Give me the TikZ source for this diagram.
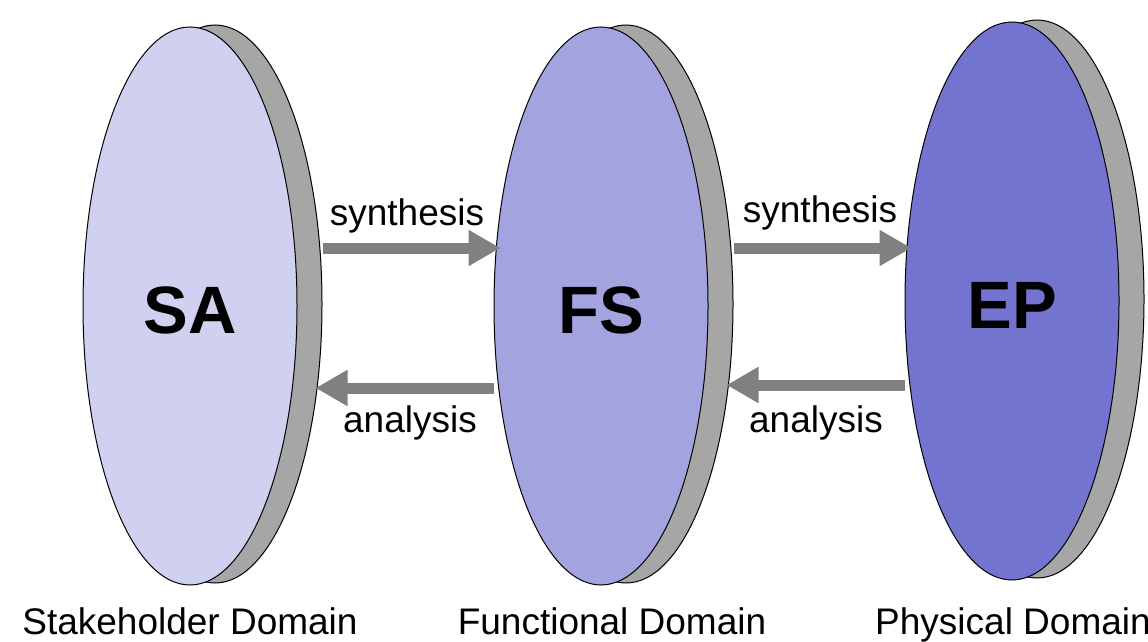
\documentclass[tikz,border=0pt]{standalone}
\usepackage{fontspec}
\setmainfont{Liberation Sans}
\usetikzlibrary{shapes.geometric,arrows.meta}
\definecolor{saFill}{HTML}{D0D0F0}
\definecolor{fsFill}{HTML}{A3A3DF}
\definecolor{epFill}{HTML}{7373D0}
\definecolor{backGray}{HTML}{A6A6A6}
\definecolor{arrGray}{HTML}{808080}
\tikzset{
  disc/.style={ellipse, draw=black, line width=1pt, inner sep=0pt,
    minimum width=214pt, minimum height=558pt},
  backdisc/.style={disc, fill=backGray},
  bigtxt/.style={font=\fontsize{67}{70}\selectfont\bfseries},
  lbl/.style={font=\fontsize{37}{44}\selectfont, anchor=base, inner sep=0pt},
  flow/.style={draw=arrGray, line width=11pt, shorten >=-7pt,
    -{Triangle[length=32pt,width=34pt]}},
}
\begin{document}
\begin{tikzpicture}[x=1pt,y=-1pt]
\useasboundingbox (0,0) rectangle (1148,642);
% back discs
\node[backdisc] (saback) at (215,304) {};
\node[backdisc] (fsback) at (626,304) {};
\node[backdisc] (epback) at (1037,299) {};
% front discs
\node[disc, fill=saFill] (sa) at (190,306) {};
\node[disc, fill=fsFill] (fs) at (601,306) {};
\node[disc, fill=epFill] (ep) at (1012,301) {};
% big letters
\node[bigtxt, anchor=base] (saT) at (190,333) {SA};
\node[bigtxt, anchor=base] (fsT) at (601,333) {FS};
\node[bigtxt, anchor=base] (epT) at (1012,328) {EP};
% arrows
\draw[flow] (saback.east |- 0,248) -- (fs.west |- 0,248);
\draw[flow] (fs.west |- 0,388) -- (saback.east |- 0,388);
\draw[flow] (fsback.east |- 0,248) -- (ep.west |- 0,248);
\draw[flow] (ep.west |- 0,385) -- (fsback.east |- 0,385);
% arrow labels
\node[lbl] (syn1) at (407,225) {synthesis};
\node[lbl] (ana1) at (410,432) {analysis};
\node[lbl] (syn2) at (820,222) {synthesis};
\node[lbl] (ana2) at (816,432) {analysis};
% domain labels
\node[lbl] (saL) at (190,634) {Stakeholder Domain};
\node[lbl] (fsL) at (612,634) {Functional Domain};
\node[lbl] (epL) at (1013,634) {Physical Domain};
\end{tikzpicture}
\end{document}
